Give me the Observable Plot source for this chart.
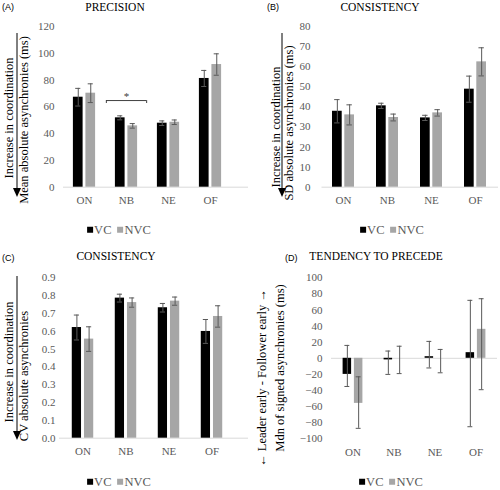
<!DOCTYPE html>
<html><head><meta charset="utf-8">
<script src="https://cdn.jsdelivr.net/npm/d3@7"></script>
<script src="https://cdn.jsdelivr.net/npm/@observablehq/plot@0.6"></script>
<style>
body{margin:0;background:#fff;}
#root{position:relative;width:500px;height:490px;overflow:hidden;font-family:"Liberation Serif","Times New Roman",serif;}
.abs{position:absolute;}
.plab{font-family:"Liberation Sans",Arial,sans-serif;font-size:9px;color:#000;line-height:1;}
.title{font-size:11.5px;color:#000;transform:translate(-50%,-50%);white-space:nowrap;line-height:1;}
.ylab{font-size:12.5px;color:#000;transform:translate(-50%,-50%) rotate(-90deg);white-space:nowrap;line-height:1;}
.legend{display:flex;align-items:center;font-size:12.5px;color:#595959;transform:translate(-50%,-50%);white-space:nowrap;line-height:1;}
.sw{display:block;flex:0 0 6px;width:6px;height:6px;margin-right:1px;}
</style>
</head><body>
<div id="root"></div>
<script>
// ---------- data ----------
const categories = ["ON", "NB", "NE", "OF"];
const groups = ["VC", "NVC"];

// (A) Precision: mean absolute asynchronies (ms), mean ± SE
const precisionVC = [67.2, 51.8, 47.8, 81.2];
const precisionVCErr = [6.6, 1.5, 1.7, 6.0];
const precisionNVC = [70.2, 45.8, 48.5, 91.6];
const precisionNVCErr = [7.0, 1.7, 1.7, 8.0];
const precisionTicks = [0, 20, 40, 60, 80, 100, 120];
const sigCategory = ["NB"];
const sigY = [64.7];
const sigLabel = ["*"];

// (B) Consistency: SD absolute asynchronies (ms)
const sdVC = [37.8, 40.5, 34.5, 48.8];
const sdVCErr = [5.8, 1.3, 1.3, 6.5];
const sdNVC = [36.0, 34.7, 37.0, 62.4];
const sdNVCErr = [5.0, 1.7, 1.6, 7.0];
const sdTicks = [0, 10, 20, 30, 40, 50, 60, 70, 80];

// (C) Consistency: CV absolute asynchronies
const cvVC = [0.621, 0.786, 0.732, 0.599];
const cvVCErr = [0.07, 0.022, 0.024, 0.067];
const cvNVC = [0.556, 0.761, 0.769, 0.683];
const cvNVCErr = [0.069, 0.026, 0.023, 0.06];
const cvTicks = [0, 0.1, 0.2, 0.3, 0.4, 0.5, 0.6, 0.7, 0.8, 0.9];

// (D) Tendency to precede: median of signed asynchronies (ms), with range bars
const mdnVC = [-20, -2, 2, 7];
const mdnVCLow = [-35, -20, -12, -85];
const mdnVCHigh = [16, 9, 21, 72];
const mdnNVC = [-56, 0, 0, 36];
const mdnNVCLow = [-87, -19, -18, -39];
const mdnNVCHigh = [-23, 15, 11, 74];
const mdnTicks = [-100, -80, -60, -40, -20, 0, 20, 40, 60, 80, 100];

// ---------- helpers ----------
const colors = {VC: "#000000", NVC: "#a6a6a6"};
const root = document.getElementById("root");

function rowsFrom(values, lows, highs) {
  return categories.map((c, i) => ({cat: c, value: values[i], low: lows[i], high: highs[i]}));
}
function rowsErr(values, errs) {
  return rowsFrom(values, values.map((v, i) => v - errs[i]), values.map((v, i) => v + errs[i]));
}

function panel(cfg) {
  const bw = (cfg.xRange[1] - cfg.xRange[0]) / categories.length;
  const half = cfg.gap / 2;
  const marks = [Plot.ruleY([0], {stroke: "#d9d9d9", strokeWidth: 1})];
  const specs = [
    {data: cfg.vc, fill: colors.VC, off: -(half + cfg.barW / 2)},
    {data: cfg.nvc, fill: colors.NVC, off: half + cfg.barW / 2}
  ];
  for (const s of specs) {
    const left = bw / 2 + s.off - cfg.barW / 2;
    const right = bw - left - cfg.barW;
    marks.push(Plot.barY(s.data, {x: "cat", y1: 0, y2: "value", fill: s.fill, insetLeft: left, insetRight: right}));
  }
  for (const s of specs) {
    const capL = bw / 2 + s.off - 2.7;
    const capR = bw - capL - 5.4;
    marks.push(Plot.ruleX(s.data, {x: "cat", y1: "low", y2: "high", dx: s.off, stroke: "#595959", strokeWidth: 1}));
    marks.push(Plot.tickY(s.data, {x: "cat", y: "low", insetLeft: capL, insetRight: capR, stroke: "#595959", strokeWidth: 1}));
    marks.push(Plot.tickY(s.data, {x: "cat", y: "high", insetLeft: capL, insetRight: capR, stroke: "#595959", strokeWidth: 1}));
  }
  if (cfg.extra) marks.push(...cfg.extra(bw));
  const svg = Plot.plot({
    width: 250,
    height: cfg.height,
    marginTop: cfg.marginTop,
    marginBottom: cfg.marginBottom,
    marginLeft: cfg.marginLeft,
    marginRight: cfg.marginRight,
    style: {fontFamily: "'Liberation Serif','Times New Roman',serif", fontSize: "11px", color: "#595959", background: "transparent", overflow: "visible"},
    x: {domain: categories, range: cfg.xRange, padding: 0, tickSize: 0, tickPadding: 9, label: null, tickFormat: d => d},
    y: {domain: cfg.yDomain, ticks: cfg.yTicks, tickFormat: cfg.yFormat, tickSize: 0, tickPadding: cfg.yPad, label: null},
    marks
  });
  svg.style.position = "absolute";
  svg.style.left = cfg.left + "px";
  svg.style.top = cfg.top + "px";
  root.appendChild(svg);
}

function addDiv(cls, html, left, top) {
  const d = document.createElement("div");
  d.className = "abs " + cls;
  d.innerHTML = html;
  d.style.left = left + "px";
  d.style.top = top + "px";
  root.appendChild(d);
  return d;
}
function addArrow(x, y1, y2) {
  const ns = "http://www.w3.org/2000/svg";
  const s = document.createElementNS(ns, "svg");
  s.setAttribute("width", 12);
  s.setAttribute("height", y2 - y1 + 2);
  s.style.position = "absolute";
  s.style.left = (x - 6) + "px";
  s.style.top = y1 + "px";
  const h = y2 - y1;
  s.innerHTML = `<line x1="6" y1="0" x2="6" y2="${h - 6}" stroke="#000" stroke-width="1"/>` +
    `<polygon points="2,${h - 9} 10,${h - 9} 6,${h}" fill="#000"/>`;
  root.appendChild(s);
}
function legend(cx, cy) {
  addDiv("legend",
    `<span class="sw" style="background:${colors.VC}"></span><span>${groups[0]}</span>` +
    `<span class="sw" style="background:${colors.NVC};margin-left:6px"></span><span>${groups[1]}</span>`, cx, cy);
}

// ---------- panel A ----------
panel({
  left: 0, top: 0, height: 215, marginTop: 26, marginBottom: 28.3, marginLeft: 63, marginRight: 2,
  xRange: [62.8, 232], barW: 10, gap: 2.5, yDomain: [0, 120], yTicks: precisionTicks, yFormat: d3.format("d"), yPad: 9,
  vc: rowsErr(precisionVC, precisionVCErr), nvc: rowsErr(precisionNVC, precisionNVCErr),
  extra: (bw) => {
    const sig = sigCategory.map((c, i) => ({cat: c, y: sigY[i], label: sigLabel[i]}));
    return [
      Plot.tickY(sig, {x: "cat", y: "y", insetLeft: 1, insetRight: 1, stroke: "#404040"}),
      Plot.ruleX(sig, {x: "cat", y1: "y", y2: d => d.y - 2.2, dx: -(bw / 2 - 1), stroke: "#404040"}),
      Plot.ruleX(sig, {x: "cat", y1: "y", y2: d => d.y - 2.2, dx: bw / 2 - 1, stroke: "#404040"}),
      Plot.text(sig, {x: "cat", y: "y", text: "label", dy: -4, fill: "#404040", fontSize: 11})
    ];
  }
});
addDiv("plab", "(A)", 2, 3);
addDiv("title", "PRECISION", 115, 8);
addDiv("ylab", "Increase in coordination", 9, 118);
addDiv("ylab", "Mean absolute asynchronies (ms)", 24, 120);
addArrow(17, 33, 197);
legend(119, 230);

// ---------- panel B ----------
panel({
  left: 250, top: 0, height: 215, marginTop: 26, marginBottom: 28.3, marginLeft: 71.5, marginRight: 2,
  xRange: [71, 247], barW: 9.7, gap: 2.6, yDomain: [0, 80], yTicks: sdTicks, yFormat: d3.format("d"), yPad: 11.5,
  vc: rowsErr(sdVC, sdVCErr), nvc: rowsErr(sdNVC, sdNVCErr)
});
addDiv("plab", "(B)", 267, 3);
addDiv("title", "CONSISTENCY", 380, 8);
addDiv("ylab", "Increase in coordination", 276, 127);
addDiv("ylab", "SD absolute asynchronies (ms)", 289, 123);
addArrow(282, 33, 197);
legend(392, 230);

// ---------- panel C ----------
panel({
  left: 0, top: 245, height: 215, marginTop: 32.3, marginBottom: 22.3, marginLeft: 59, marginRight: 2,
  xRange: [60, 233], barW: 9.5, gap: 2.7, yDomain: [0, 0.9], yTicks: cvTicks, yFormat: d3.format(".1f"), yPad: 4,
  vc: rowsErr(cvVC, cvVCErr), nvc: rowsErr(cvNVC, cvNVCErr)
});
addDiv("plab", "(C)", 2, 254);
addDiv("title", "CONSISTENCY", 116, 257);
addDiv("ylab", "Increase in coordination", 9, 362);
addDiv("ylab", "CV absolute asynchronies", 24, 376);
addArrow(17, 276, 440);
legend(119, 482);

// ---------- panel D ----------
panel({
  left: 250, top: 245, height: 215, marginTop: 32.3, marginBottom: 21.7, marginLeft: 81, marginRight: 3,
  xRange: [81, 247], barW: 9, gap: 2.3, yDomain: [-100, 100], yTicks: mdnTicks, yFormat: d3.format("d"), yPad: 9,
  vc: rowsFrom(mdnVC, mdnVCLow, mdnVCHigh), nvc: rowsFrom(mdnNVC, mdnNVCLow, mdnNVCHigh)
});
addDiv("plab", "(D)", 285, 254);
addDiv("title", "TENDENCY TO PRECEDE", 376, 257);
addDiv("ylab", "\u2190 Leader early - Follower early \u2192", 262, 378);
addDiv("ylab", "Mdn of signed asynchronies (ms)", 280, 368);
legend(391, 482);
</script>
</body></html>
